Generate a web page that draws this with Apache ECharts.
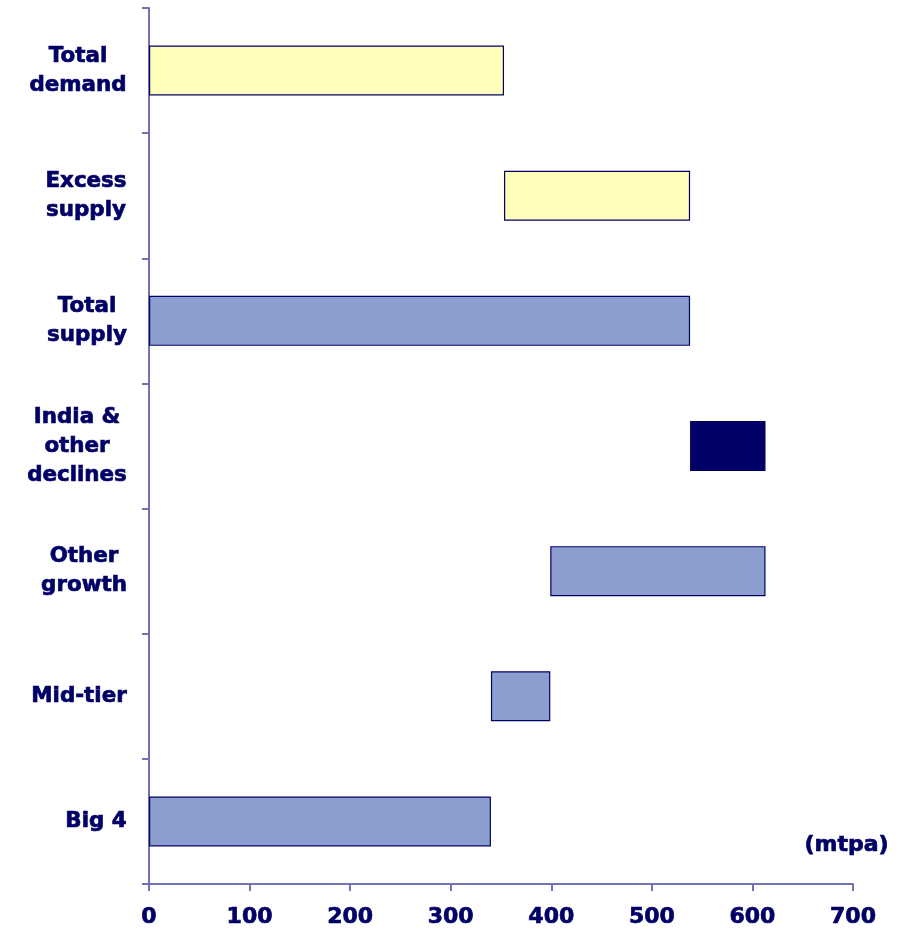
<!DOCTYPE html>
<html>
<head>
<meta charset="utf-8">
<script src="https://cdn.jsdelivr.net/npm/echarts@6/dist/echarts.min.js"></script>
<style>html,body{margin:0;padding:0;background:#fff;}#c{width:906px;height:936px;}</style>
</head>
<body>
<div id="c"></div>
<script>
// Categories, bottom to top
const categories = ['Big 4', 'Mid-tier', 'Other\ngrowth', 'India &\nother\ndeclines', 'Total\nsupply', 'Excess\nsupply', 'Total\ndemand'];
// Start and end of each bar (mtpa)
const barStart = [0, 340, 399, 538, 0, 353, 0];
const barEnd   = [340, 399, 613, 613, 538, 538, 353];
const xTicks = [0, 100, 200, 300, 400, 500, 600, 700];
const unitLabel = '(mtpa)';

// Styles
const fillColors = ['#8b9ecf', '#8b9ecf', '#8b9ecf', '#000066', '#8b9ecf', '#ffffbb', '#ffffbb'];
const textColor = '#000066';
const axisColor = '#7272b2';
const fontFamily = '"DejaVu Sans", Verdana, sans-serif';
const yFont = 21.4;

const ctx = document.createElement('canvas').getContext('2d');
ctx.font = 'bold ' + yFont + 'px "DejaVu Sans"';
const rich = {};
categories.forEach((c, i) => {
  const w = Math.max(...c.split('\n').map(l => ctx.measureText(l).width));
  rich['r' + i] = { width: Math.ceil(w), align: 'center', fontSize: yFont, fontWeight: 'bold', fontFamily: fontFamily, color: textColor, lineHeight: 29, textBorderColor: textColor, textBorderWidth: 0.7 };
});

const chart = echarts.init(document.getElementById('c'), null, { renderer: 'canvas' });
chart.setOption({
  animation: false,
  backgroundColor: '#ffffff',
  grid: { left: 149, right: 53, top: 8, bottom: 52, containLabel: false },
  xAxis: {
    type: 'value', min: xTicks[0], max: xTicks[xTicks.length - 1], interval: 100,
    axisLine: { show: true, lineStyle: { color: axisColor, width: 2 } },
    axisTick: { show: true, length: 7, lineStyle: { color: axisColor, width: 2 } },
    splitLine: { show: false },
    axisLabel: { color: textColor, fontSize: 22, fontWeight: 'bold', fontFamily: fontFamily, margin: 22, textBorderColor: textColor, textBorderWidth: 0.7 }
  },
  yAxis: {
    type: 'category', data: categories,
    axisLine: { show: true, lineStyle: { color: axisColor, width: 2 } },
    axisTick: { show: true, length: 7, lineStyle: { color: axisColor, width: 2 } },
    axisLabel: {
      align: 'right', margin: 22,
      formatter: (v, idx) => v.split('\n').map(l => '{r' + idx + '|' + l + '}').join('\n'),
      rich: rich
    }
  },
  series: [
    {
      type: 'bar', stack: 'w', barWidth: 50, silent: true,
      itemStyle: { color: 'transparent', borderWidth: 0 },
      data: barStart
    },
    {
      type: 'bar', stack: 'w', barWidth: 50,
      data: barEnd.map((e, i) => ({
        value: e - barStart[i],
        itemStyle: { color: fillColors[i], borderColor: '#000066', borderWidth: 1.2 }
      }))
    }
  ],
  graphic: [{
    type: 'text', right: 17, top: 834,
    style: { text: unitLabel, fill: textColor, font: 'bold 22px ' + fontFamily, stroke: textColor, lineWidth: 0.7 }
  }]
});
</script>
</body>
</html>
